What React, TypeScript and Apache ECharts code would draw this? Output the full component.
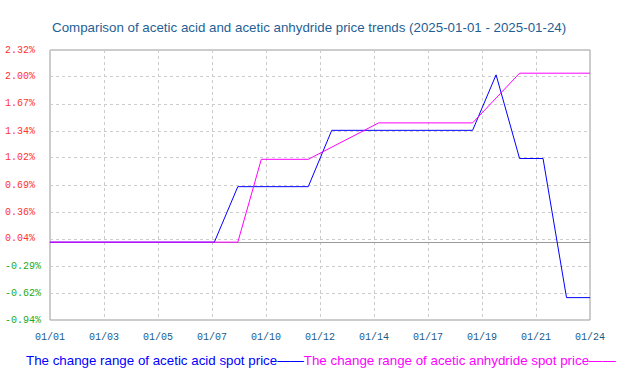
import React, { useEffect, useRef } from 'react';
import * as echarts from 'echarts';

const TITLE = 'Comparison of acetic acid and acetic anhydride price trends (2025-01-01 - 2025-01-24)';
const START_DATE = '2025-01-01';
const END_DATE = '2025-01-24';

const xTickLabels = ['01/01', '01/03', '01/05', '01/07', '01/10', '01/12', '01/14', '01/17', '01/19', '01/21', '01/24'];
const yTickLabels = ['-0.94', '-0.62', '-0.29', '0.04', '0.36', '0.69', '1.02', '1.34', '1.67', '2.00', '2.32'];

const seriesNames = [
  'The change range of acetic acid spot price',
  'The change range of acetic anhydride spot price',
];
const seriesColors = ['#0000ff', '#ff00ff'];

const aceticAcidDates = ['2025-01-01', '2025-01-08', '2025-01-09', '2025-01-12', '2025-01-13', '2025-01-19', '2025-01-20', '2025-01-21', '2025-01-22', '2025-01-23', '2025-01-24'];
const aceticAcidValues = [0, 0, 0.67, 0.67, 1.35, 1.35, 2.02, 1.01, 1.01, -0.67, -0.67];

const anhydrideDates = ['2025-01-01', '2025-01-09', '2025-01-10', '2025-01-12', '2025-01-15', '2025-01-19', '2025-01-21', '2025-01-24'];
const anhydrideValues = [0, 0, 1.0, 1.0, 1.44, 1.44, 2.04, 2.04];

const dayIndex = (d: string) => Math.round((Date.parse(d) - Date.parse(START_DATE)) / 86400000);

export default function App() {
  const ref = useRef<HTMLDivElement>(null);

  useEffect(() => {
    if (!ref.current) return;
    const chart = echarts.init(ref.current, undefined, { renderer: 'svg' });
    const xMax = dayIndex(END_DATE);
    const xInterval = xMax / (xTickLabels.length - 1);
    const yTickValues = yTickLabels.map(Number);
    const mono = '"Liberation Mono", "DejaVu Sans Mono", monospace';
    const sans = '"Liberation Sans", Arial, sans-serif';

    const toData = (dates: string[], values: number[]) => dates.map((d, i) => [dayIndex(d), values[i]]);

    chart.setOption({
      animation: false,
      backgroundColor: '#ffffff',
      title: {
        text: TITLE,
        left: 52,
        top: 21,
        padding: 0,
        textStyle: { fontSize: 13.33, fontWeight: 'normal', color: '#1f5f95', fontFamily: sans },
      },
      grid: {
        left: 50,
        right: 38,
        top: 50,
        bottom: 56,
        show: true,
        borderColor: '#999999',
        borderWidth: 1,
        containLabel: false,
      },
      xAxis: [
        {
          type: 'value',
          min: 0,
          max: xMax,
          interval: xInterval,
          position: 'bottom',
          axisLine: { show: false, onZero: false },
          axisTick: { show: false },
          axisLabel: {
            margin: 12,
            color: '#1a5a8a',
            fontSize: 10,
            fontFamily: mono,
            formatter: (v: number) => xTickLabels[Math.round(v / xInterval)] ?? '',
          },
          splitLine: { show: true, lineStyle: { color: '#cccccc', type: [3, 3], width: 1 } },
        },
        {
          type: 'value',
          min: 0,
          max: xMax,
          axisLine: { show: true, onZero: true, lineStyle: { color: '#999999', width: 1 } },
          axisTick: { show: false },
          axisLabel: { show: false },
          splitLine: { show: false },
        },
      ],
      yAxis: {
        type: 'value',
        min: yTickValues[0],
        max: yTickValues[yTickValues.length - 1],
        axisLine: { show: false },
        axisTick: { show: false, customValues: yTickValues },
        axisLabel: {
          customValues: yTickValues,
          align: 'left',
          margin: 45,
          fontSize: 10,
          fontFamily: mono,
          formatter: (v: number) => v.toFixed(2) + '%',
          color: (v: any) => (Number(v) < 0 ? '#22aa22' : '#ff3333'),
        },
        splitLine: { show: true, lineStyle: { color: '#cccccc', type: [3, 3], width: 1 } },
      },
      series: [
        {
          name: seriesNames[0],
          type: 'line',
          xAxisIndex: 0,
          data: toData(aceticAcidDates, aceticAcidValues),
          showSymbol: false,
          symbol: 'none',
          lineStyle: { color: seriesColors[0], width: 1 },
          itemStyle: { color: seriesColors[0] },
          z: 3,
        },
        {
          name: seriesNames[1],
          type: 'line',
          xAxisIndex: 0,
          data: toData(anhydrideDates, anhydrideValues),
          showSymbol: false,
          symbol: 'none',
          lineStyle: { color: seriesColors[1], width: 1 },
          itemStyle: { color: seriesColors[1] },
          z: 4,
        },
      ],
      graphic: [
        {
          type: 'text',
          left: 26,
          top: 354,
          style: {
            text: seriesNames.map((n, i) => `{s${i}|${n}——}`).join(''),
            rich: {
              s0: { fill: seriesColors[0], fontSize: 13.33, fontFamily: sans },
              s1: { fill: seriesColors[1], fontSize: 13.33, fontFamily: sans },
            },
          },
        },
      ],
    });
    return () => chart.dispose();
  }, []);

  return <div ref={ref} style={{ position: 'fixed', left: 0, top: 0, width: 628, height: 376 }} />;
}
